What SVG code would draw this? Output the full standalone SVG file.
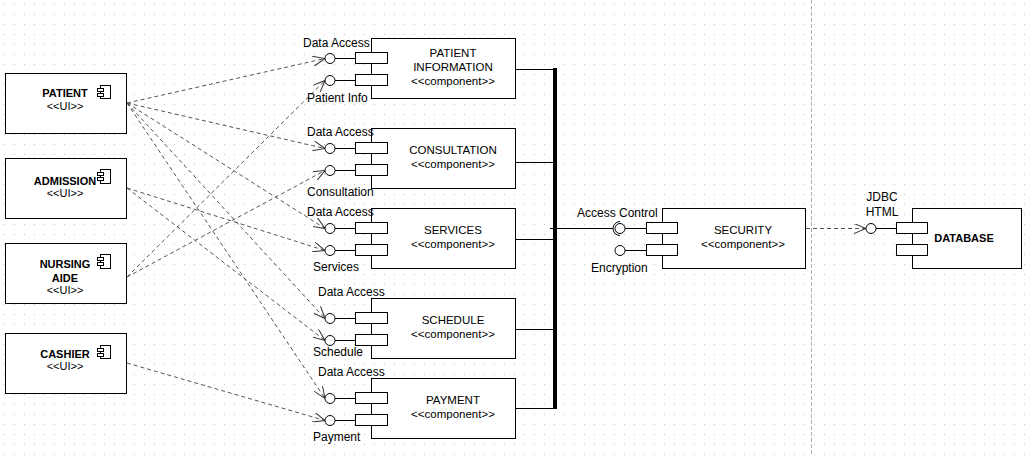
<svg xmlns="http://www.w3.org/2000/svg" width="1026" height="455" viewBox="0 0 1026 455">
<defs>
<pattern id="grid" x="0" y="0" width="10" height="10" patternUnits="userSpaceOnUse">
<rect x="4" y="4" width="1" height="1" fill="#c4c4c4"/>
</pattern>
<marker id="open" viewBox="0 0 12 10" refX="12" refY="5" markerWidth="12" markerHeight="10" markerUnits="userSpaceOnUse" orient="auto">
<path d="M0,0 L12,5 L0,10" fill="none" stroke="#333" stroke-width="1" stroke-dasharray="none"/>
</marker>
</defs>
<style>
.box{fill:#fff;stroke:#000;stroke-width:1}
.port{fill:#fff;stroke:#000;stroke-width:1}
.ln{fill:none;stroke:#000;stroke-width:1}
.lol{fill:#fff;stroke:#000;stroke-width:1}
.dep{fill:none;stroke:#555;stroke-width:1;stroke-dasharray:4 3;marker-end:url(#open)}
.lbl{font-family:"Liberation Sans",Arial,sans-serif;font-size:12px;fill:#000}
.ct{font-family:"Liberation Sans",Arial,sans-serif;font-size:11.5px;fill:#000;text-anchor:middle}
.ui{font-family:"Liberation Sans",Arial,sans-serif;font-size:11px;font-weight:bold;fill:#000;text-anchor:middle}
.st{font-family:"Liberation Sans",Arial,sans-serif;font-size:11px;fill:#000;text-anchor:middle}
</style>
<rect width="1026" height="455" fill="#fff"/>
<rect width="1026" height="455" fill="url(#grid)"/>
<line x1="811.5" y1="0" x2="811.5" y2="455" stroke="#b0b0b0" stroke-dasharray="4 2"/>

<g id="connectors">
<path class="dep" d="M127,103 L325,58.5"/>
<path class="dep" d="M127,103 L325,148.5"/>
<path class="dep" d="M127,103 L325,228.5"/>
<path class="dep" d="M127,103 L325,318.5"/>
<path class="dep" d="M127,103 L325,398.5"/>
<path class="dep" d="M127,188 L325,250.5"/>
<path class="dep" d="M127,188 L325,340.5"/>
<path class="dep" d="M127,277 L325,80.5"/>
<path class="dep" d="M127,277 L325,170.5"/>
<path class="dep" d="M127,363 L325,420.5"/>
<path class="dep" d="M806,228.5 L866,228.5"/>
<rect x="553" y="68" width="4" height="341" fill="#000"/>
<path class="ln" d="M515.5,69.5H553 M515.5,162.5H553 M515.5,239.5H553 M515.5,329.5H553 M515.5,408.5H553"/>
<path class="ln" d="M550,228.5H613"/>
</g>

<g id="patient">
<rect class="box" x="5.5" y="73.5" width="121" height="60"/>
<rect class="port" x="100.5" y="85.5" width="10" height="13"/>
<rect class="port" x="97.5" y="88.5" width="6" height="3"/>
<rect class="port" x="97.5" y="93.5" width="6" height="3"/>
<text class="ui" x="65" y="97">PATIENT</text>
<text class="st" x="65" y="110">&lt;&lt;UI&gt;&gt;</text>
</g>
<g id="admission">
<rect class="box" x="5.5" y="158.5" width="121" height="60"/>
<rect class="port" x="100.5" y="169.5" width="10" height="14"/>
<rect class="port" x="97.5" y="172.5" width="6" height="3"/>
<rect class="port" x="97.5" y="177.5" width="6" height="3"/>
<text class="ui" x="65" y="185">ADMISSION</text>
<text class="st" x="65" y="197">&lt;&lt;UI&gt;&gt;</text>
</g>
<g id="nursing">
<rect class="box" x="5.5" y="243.5" width="121" height="60"/>
<rect class="port" x="100.5" y="254.5" width="10" height="14"/>
<rect class="port" x="97.5" y="257.5" width="6" height="3"/>
<rect class="port" x="97.5" y="262.5" width="6" height="3"/>
<text class="ui" x="65" y="268">NURSING</text>
<text class="ui" x="65" y="282">AIDE</text>
<text class="st" x="65" y="294">&lt;&lt;UI&gt;&gt;</text>
</g>
<g id="cashier">
<rect class="box" x="5.5" y="333.5" width="121" height="60"/>
<rect class="port" x="100.5" y="345.5" width="10" height="13"/>
<rect class="port" x="97.5" y="348.5" width="6" height="3"/>
<rect class="port" x="97.5" y="353.5" width="6" height="3"/>
<text class="ui" x="65" y="358">CASHIER</text>
<text class="st" x="65" y="370">&lt;&lt;UI&gt;&gt;</text>
</g>

<g id="patient-information">
<rect class="box" x="371.5" y="38.5" width="144" height="60"/>
<path class="ln" d="M335,58.5H355.5 M335,80.5H355.5"/>
<circle class="lol" cx="330" cy="58.5" r="5"/>
<circle class="lol" cx="330" cy="80.5" r="5"/>
<rect class="port" x="355.5" y="52.5" width="32" height="11"/>
<rect class="port" x="355.5" y="74.5" width="32" height="11"/>
<text class="lbl" x="303" y="47">Data Access</text>
<text class="lbl" x="307" y="102">Patient Info</text>
<text class="ct" x="453" y="57">PATIENT</text>
<text class="ct" x="453" y="71">INFORMATION</text>
<text class="ct" x="453" y="85">&lt;&lt;component&gt;&gt;</text>
</g>
<g id="consultation">
<rect class="box" x="371.5" y="128.5" width="144" height="60"/>
<path class="ln" d="M335,148.5H355.5 M335,170.5H355.5"/>
<circle class="lol" cx="330" cy="148.5" r="5"/>
<circle class="lol" cx="330" cy="170.5" r="5"/>
<rect class="port" x="355.5" y="142.5" width="32" height="11"/>
<rect class="port" x="355.5" y="164.5" width="32" height="11"/>
<text class="lbl" x="307" y="136">Data Access</text>
<text class="lbl" x="307" y="196">Consultation</text>
<text class="ct" x="453" y="154">CONSULTATION</text>
<text class="ct" x="453" y="168">&lt;&lt;component&gt;&gt;</text>
</g>
<g id="services">
<rect class="box" x="371.5" y="208.5" width="144" height="60"/>
<path class="ln" d="M335,228.5H355.5 M335,250.5H355.5"/>
<circle class="lol" cx="330" cy="228.5" r="5"/>
<circle class="lol" cx="330" cy="250.5" r="5"/>
<rect class="port" x="355.5" y="222.5" width="32" height="11"/>
<rect class="port" x="355.5" y="244.5" width="32" height="11"/>
<text class="lbl" x="307" y="216">Data Access</text>
<text class="lbl" x="313" y="271">Services</text>
<text class="ct" x="453" y="234">SERVICES</text>
<text class="ct" x="453" y="248">&lt;&lt;component&gt;&gt;</text>
</g>
<g id="schedule">
<rect class="box" x="371.5" y="298.5" width="144" height="60"/>
<path class="ln" d="M335,318.5H355.5 M335,340.5H355.5"/>
<circle class="lol" cx="330" cy="318.5" r="5"/>
<circle class="lol" cx="330" cy="340.5" r="5"/>
<rect class="port" x="355.5" y="312.5" width="32" height="11"/>
<rect class="port" x="355.5" y="334.5" width="32" height="11"/>
<text class="lbl" x="318" y="296">Data Access</text>
<text class="lbl" x="313" y="356">Schedule</text>
<text class="ct" x="453" y="324">SCHEDULE</text>
<text class="ct" x="453" y="338">&lt;&lt;component&gt;&gt;</text>
</g>
<g id="payment">
<rect class="box" x="371.5" y="378.5" width="144" height="60"/>
<path class="ln" d="M335,398.5H355.5 M335,420.5H355.5"/>
<circle class="lol" cx="330" cy="398.5" r="5"/>
<circle class="lol" cx="330" cy="420.5" r="5"/>
<rect class="port" x="355.5" y="392.5" width="32" height="11"/>
<rect class="port" x="355.5" y="414.5" width="32" height="11"/>
<text class="lbl" x="318" y="376">Data Access</text>
<text class="lbl" x="313" y="441">Payment</text>
<text class="ct" x="453" y="404">PAYMENT</text>
<text class="ct" x="453" y="418">&lt;&lt;component&gt;&gt;</text>
</g>
<g id="security">
<rect class="box" x="662.5" y="208.5" width="143" height="60"/>
<path class="ln" d="M625,228.5H646.5 M625,250.5H646.5"/>
<path class="ln" d="M620,221.5 A7,7 0 0 0 620,235.5"/>
<circle class="lol" cx="620" cy="228.5" r="5"/>
<circle class="lol" cx="620" cy="250.5" r="5"/>
<rect class="port" x="646.5" y="222.5" width="31" height="11"/>
<rect class="port" x="646.5" y="244.5" width="31" height="11"/>
<text class="lbl" x="577" y="217">Access Control</text>
<text class="lbl" x="591" y="272">Encryption</text>
<text class="ct" x="743" y="234">SECURITY</text>
<text class="ct" x="743" y="248">&lt;&lt;component&gt;&gt;</text>
</g>
<g id="database">
<rect class="box" x="912.5" y="208.5" width="109" height="60"/>
<path class="ln" d="M876,228.5H896.5"/>
<circle class="lol" cx="871" cy="228.5" r="5"/>
<rect class="port" x="896.5" y="222.5" width="31" height="11"/>
<rect class="port" x="896.5" y="244.5" width="31" height="11"/>
<text class="st" x="882" y="201" style="font-size:12px">JDBC</text>
<text class="st" x="882" y="216" style="font-size:12px">HTML</text>
<text class="ui" x="964" y="242">DATABASE</text>
</g>
</svg>
